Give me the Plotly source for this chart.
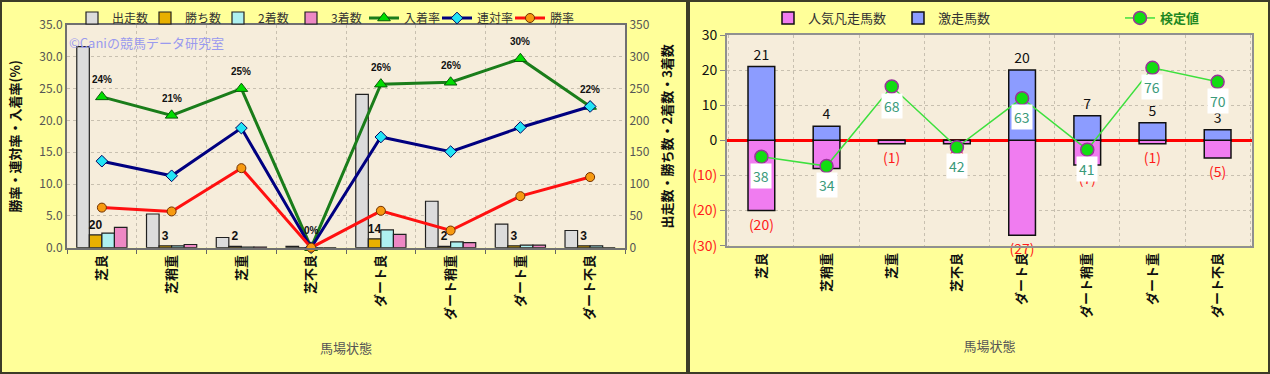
import plotly.graph_objects as go

W, H = 1270, 374

# ---------------- data ----------------
categories = ["芝良", "芝稍重", "芝重", "芝不良", "ダート良", "ダート稍重", "ダート重", "ダート不良"]

runs = [316, 53, 16, 2, 241, 73, 37, 27]
wins = [20, 3, 2, 0, 14, 2, 3, 3]
seconds = [23, 3, 1, 0, 28, 9, 4, 3]
thirds = [32, 5, 1, 0, 21, 8, 4, 0]
win_labels = ["20", "3", "2", "", "14", "2", "3", "3"]

place_rate = [23.7, 20.8, 25.0, 0.0, 25.7, 26.0, 29.7, 22.2]
rentai_rate = [13.6, 11.3, 18.8, 0.0, 17.4, 15.1, 18.9, 22.2]
win_rate = [6.3, 5.7, 12.5, 0.0, 5.8, 2.7, 8.1, 11.1]
place_labels = ["24%", "21%", "25%", "0%", "26%", "26%", "30%", "22%"]

fav_fail = [-20, -8, -1, -1, -27, -7, -1, -5]
gekiso = [21, 4, 0, 0, 20, 7, 5, 3]
kentei = [38, 34, 68, 42, 63, 41, 76, 70]

left_ticks = [0, 5, 10, 15, 20, 25, 30, 35]
right_ticks = [0, 50, 100, 150, 200, 250, 300, 350]
diff_ticks = [-30, -20, -10, 0, 10, 20, 30]

FONT = "Noto Sans CJK JP"

fig = go.Figure()

# ---------------- left chart: bars ----------------
bar_specs = [
    ("出走数", runs, "#dcdcdc", None),
    ("勝ち数", wins, "#e8b000", win_labels),
    ("2着数", seconds, "#aef0f0", None),
    ("3着数", thirds, "#ee88c4", None),
]
for name, vals, col, txt in bar_specs:
    fig.add_trace(go.Bar(
        x=categories, y=vals, name=name, xaxis="x", yaxis="y",
        marker=dict(color=col, line=dict(color="#202020", width=1.2)),
        text=txt, textposition="outside" if txt else None,
        textfont=dict(size=12, color="#111", family="Liberation Sans", weight="bold"),
        constraintext="none", cliponaxis=False, legend="legend",
    ))

# ---------------- left chart: rate lines ----------------
line_specs = [
    ("入着率", place_rate, "#1a7d1a", "triangle-up", "#00dd00", "#0a5a0a", 11),
    ("連対率", rentai_rate, "#000080", "diamond", "#22e5f5", "#000060", 9),
    ("勝率", win_rate, "#ff1010", "circle", "#f79a10", "#703000", 9),
]
for name, vals, lc, sym, mc, mlc, ms in line_specs:
    fig.add_trace(go.Scatter(
        x=categories, y=vals, name=name, xaxis="x", yaxis="y2",
        mode="lines+markers", line=dict(color=lc, width=3),
        marker=dict(symbol=sym, color=mc, size=ms, line=dict(color=mlc, width=1)),
        cliponaxis=False, legend="legend",
    ))

# ---------------- right chart ----------------
fig.add_trace(go.Bar(
    x=categories, y=fav_fail, name="人気凡走馬数", xaxis="x2", yaxis="y3",
    marker=dict(color="#f07cf0", line=dict(color="#101010", width=1.5)),
    width=0.41, offsetgroup="diff",
    text=[f"({abs(v)})" for v in fav_fail], textposition="outside",
    textfont=dict(size=14, color="#ff1a1a", family=FONT),
    constraintext="none", cliponaxis=False, legend="legend2",
))
fig.add_trace(go.Bar(
    x=categories, y=gekiso, name="激走馬数", xaxis="x2", yaxis="y3",
    marker=dict(color="#8c9cff", line=dict(color="#101010", width=1.5)),
    width=0.41, offsetgroup="diff",
    text=[str(v) if v > 0 else "" for v in gekiso], textposition="outside",
    textfont=dict(size=14, color="#111", family=FONT),
    constraintext="none", cliponaxis=False, legend="legend2",
))
fig.add_trace(go.Scatter(
    x=categories, y=kentei, name="検定値", xaxis="x2", yaxis="y4",
    mode="lines+markers", line=dict(color="#3ee03e", width=1.5),
    marker=dict(symbol="circle", color="#11dd11", size=13, line=dict(color="#993399", width=1.5)),
    cliponaxis=False, legend="legend3",
))

annotations = []
for c, v, t in zip(categories, place_rate, place_labels):
    annotations.append(dict(x=c, y=v, xref="x", yref="y2", text=t, showarrow=False, yshift=17,
                            font=dict(size=10, color="#111", family="Liberation Sans", weight="bold")))
for c, v in zip(categories, kentei):
    annotations.append(dict(x=c, y=v, xref="x2", yref="y4", text=str(v), showarrow=False, yshift=-19,
                            bgcolor="white", borderpad=2,
                            font=dict(size=14, color="#3a9a7a", family=FONT)))
annotations.append(dict(x=67 / W, y=1 - 42 / H, xref="paper", yref="paper", xanchor="left", yanchor="middle",
                        text="©Caniの競馬データ研究室", showarrow=False,
                        font=dict(size=13, color="#9a9aee", family=FONT)))

# panel borders
shapes = [
    dict(type="rect", xref="paper", yref="paper", x0=1 / W, x1=687 / W, y0=1 / H, y1=1 - 1 / H,
         line=dict(color="#3c3c28", width=2), layer="below"),
    dict(type="rect", xref="paper", yref="paper", x0=689 / W, x1=1 - 1 / W, y0=1 / H, y1=1 - 1 / H,
         line=dict(color="#3c3c28", width=2), layer="below"),
]

grid = dict(gridcolor="#c8c0b0", griddash="dot", gridwidth=1)
xtickfont = dict(size=13, color="#111", family=FONT, weight="bold")

fig.update_layout(
    width=W, height=H, margin=dict(l=0, r=0, t=0, b=0),
    paper_bgcolor="#ffff99", plot_bgcolor="#f6eddb",
    font=dict(family=FONT, color="#333"),
    barmode="group", bargap=0.28, bargroupgap=0,
    xaxis=dict(domain=[67 / W, 625 / W], anchor="y", type="category", automargin=False,
               tickson="boundaries", ticks="outside", ticklen=4, tickcolor="#666",
               showgrid=True, **grid, tickangle=-90, tickfont=xtickfont,
               showline=True, linecolor="#707070", linewidth=2, mirror=True,
               title=dict(text="馬場状態", font=dict(size=13, color="#555"), standoff=25)),
    yaxis=dict(domain=[1 - 247.7 / H, 1 - 25 / H], anchor="x", side="right", automargin=False,
               range=[0, 350], tickvals=right_ticks, showgrid=True, **grid,
               tickfont=dict(size=12, color="#555"), showline=True, linecolor="#707070", linewidth=2,
               ticks="", zeroline=False,
               title=dict(text="出走数・勝ち数・2着数・3着数", font=dict(size=13, color="#111", weight="bold"),
                          standoff=14)),
    yaxis2=dict(overlaying="y", side="left", anchor="x", range=[0, 35], tickvals=left_ticks, automargin=False,
                tickformat=".1f", ticksuffix="%", showgrid=False, zeroline=False,
                tickfont=dict(size=12, color="#555"), showline=True, linecolor="#707070", linewidth=2,
                title=dict(text="勝率・連対率・入着率(%)", font=dict(size=13, color="#111", weight="bold"),
                           standoff=16)),
    xaxis2=dict(domain=[727 / W, 1252 / W], anchor="y3", type="category", automargin=False,
                tickson="boundaries", ticks="", showgrid=True, **grid,
                tickangle=-90, tickfont=xtickfont,
                showline=True, linecolor="#909090", linewidth=2, mirror=True,
                title=dict(text="馬場状態", font=dict(size=13, color="#555"), standoff=25)),
    yaxis3=dict(domain=[1 - 245.7 / H, 1 - 35 / H], anchor="x2", range=[-30, 30], tickvals=diff_ticks,
                automargin=False,
                ticktext=[f"<span style='color:#ff1a1a'>({abs(v)})</span>" if v < 0 else str(v) for v in diff_ticks],
                showgrid=True, **grid, tickfont=dict(size=14, color="#111"),
                ticks="outside", ticklen=5, tickcolor="#888",
                zeroline=True, zerolinecolor="#ff0000", zerolinewidth=3,
                showline=True, linecolor="#909090", linewidth=2, mirror=True),
    yaxis4=dict(overlaying="y3", anchor="x2", range=[0, 90], visible=False, automargin=False),
    legend=dict(orientation="h", x=72 / W, y=1 - 18 / H, xanchor="left", yanchor="middle",
                bgcolor="rgba(0,0,0,0)", font=dict(size=12, color="#333"), entrywidth=28,
                itemwidth=30, traceorder="normal"),
    legend2=dict(orientation="h", x=768 / W, y=1 - 18 / H, xanchor="left", yanchor="middle",
                 bgcolor="rgba(0,0,0,0)", font=dict(size=13, color="#333"), entrywidth=85,
                 traceorder="normal"),
    legend3=dict(orientation="h", x=1120 / W, y=1 - 18 / H, xanchor="left", yanchor="middle",
                 bgcolor="rgba(0,0,0,0)", font=dict(size=13, color="#228822", weight="bold")),
    annotations=annotations, shapes=shapes, showlegend=True,
)

fig.write_html("out.html")
